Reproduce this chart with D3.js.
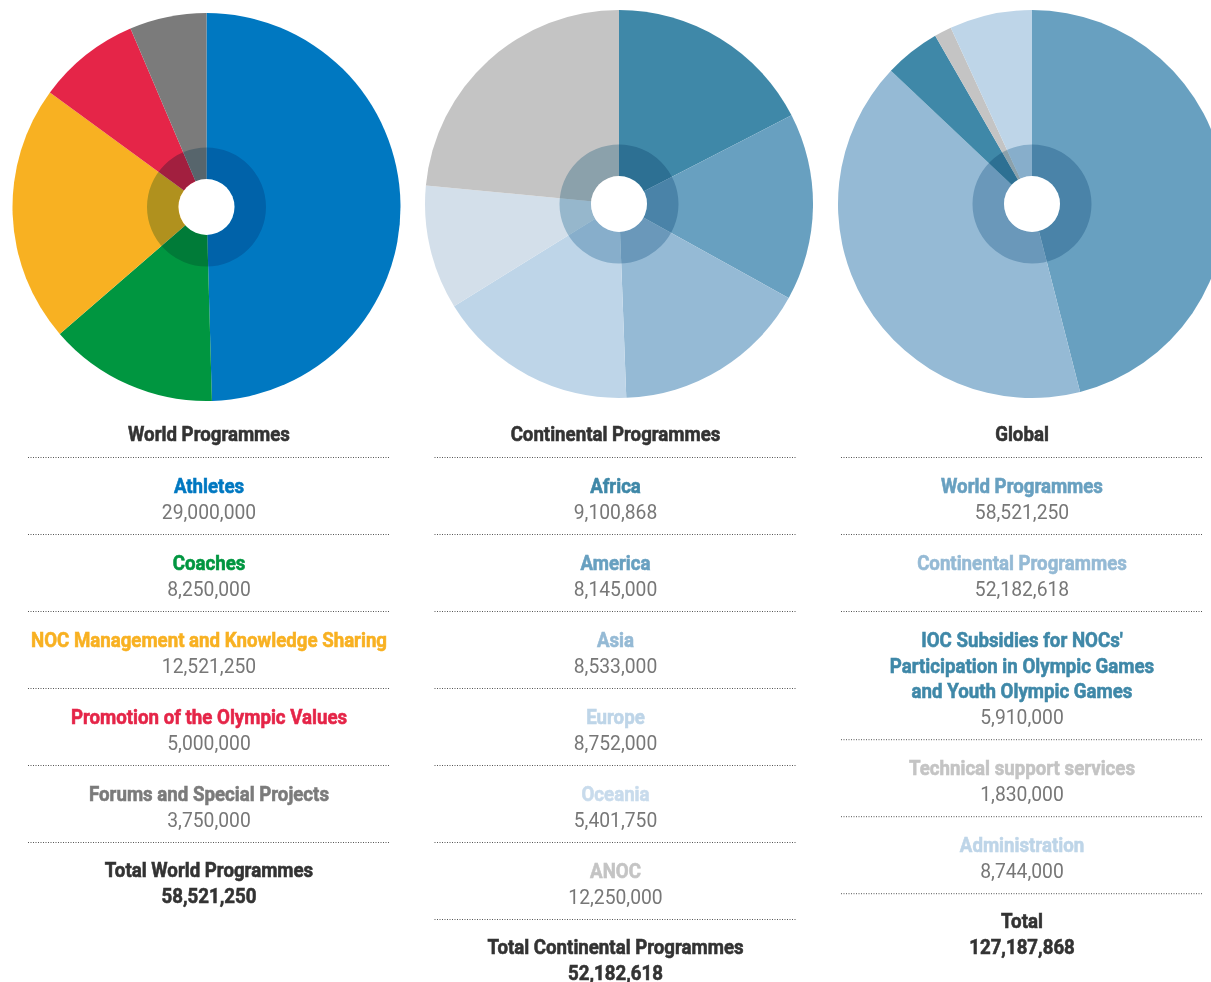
<!DOCTYPE html>
<html>
<head>
<meta charset="utf-8">
<script src="https://cdn.jsdelivr.net/npm/d3@7"></script>
<style>
    body { margin: 0; background: #fff; }
    svg { display: block; }
</style>
</head>
<body>
<div id="chart"></div>
<script>

// World Programmes
const worldLabels = [["Athletes"], ["Coaches"], ["NOC Management and Knowledge Sharing"],
    ["Promotion of the Olympic Values"], ["Forums and Special Projects"]];
const worldValues = [29000000, 8250000, 12521250, 5000000, 3750000];
const worldColors = ["#0078c1", "#009640", "#f8b122", "#e52548", "#7b7b7b"];

// Continental Programmes
const continentalLabels = [["Africa"], ["America"], ["Asia"], ["Europe"], ["Oceania"], ["ANOC"]];
const continentalValues = [9100868, 8145000, 8533000, 8752000, 5401750, 12250000];
const continentalColors = ["#3f88a8", "#68a0c0", "#95bad5", "#bed5e8", "#d3dfea", "#c4c4c4"];
const continentalTextColors = ["#3f88a8", "#68a0c0", "#95bad5", "#bed5e8", "#c8dbec", "#c4c4c4"];

// Global
const globalLabels = [["World Programmes"], ["Continental Programmes"],
    ["IOC Subsidies for NOCs'", "Participation in Olympic Games", "and Youth Olympic Games"],
    ["Technical support services"], ["Administration"]];
const globalValues = [58521250, 52182618, 5910000, 1830000, 8744000];
const globalColors = ["#68a0c0", "#95bad5", "#3f88a8", "#c4c4c4", "#bed5e8"];


class BudgetPanel {

    constructor(svg, opts) {
        this.svg = svg;
        this.opts = opts;
        this.initVis();
    }

    initVis() {
        let vis = this;
        let o = vis.opts;

        vis.number_format = d3.format(",");
        vis.outer = 194;
        vis.ring = 59.5;
        vis.hole = 28;

        vis.pie = d3.pie().sort(null).value(d => d);
        vis.arc = d3.arc().innerRadius(0).outerRadius(vis.outer);

        //pie
        vis.g = vis.svg.append("g")
            .attr("transform", `translate(${o.cx},${o.cy})`);

        vis.g.selectAll("path.slice")
            .data(vis.pie(o.values))
            .join("path")
            .attr("class", "slice")
            .attr("d", vis.arc)
            .attr("fill", (d, i) => o.colors[i]);

        //darker inner ring
        vis.g.append("path")
            .attr("d", d3.arc()({innerRadius: vis.hole, outerRadius: vis.ring, startAngle: 0, endAngle: 2 * Math.PI}))
            .attr("fill", "#b5d1df")
            .style("mix-blend-mode", "multiply");

        vis.g.append("circle")
            .attr("r", vis.hole)
            .attr("fill", "#fff");

        //table below the pie
        vis.t = vis.svg.append("g");
        let x0 = o.tx - 181, x1 = o.tx + 181;

        vis.text(o.title, o.tx, 441, "#333", 700);

        let line = 457;
        o.labels.forEach((lab, i) => {
            vis.rule(x0, x1, line);
            let y = line + 36;
            lab.forEach((l, j) => vis.text(l, o.tx, y + j * 25.6, o.textColors[i], 700));
            let vy = y + (lab.length - 1) * 25.6 + 26;
            vis.text(vis.number_format(o.values[i]), o.tx, vy, "#777", 400);
            line = vy + 15;
        });
        vis.rule(x0, x1, line);

        vis.text(o.totalLabel, o.tx, line + 35, "#333", 700);
        vis.text(vis.number_format(d3.sum(o.values)), o.tx, line + 60.5, "#333", 700);
    }

    // condensed look: Roboto squeezed horizontally
    text(s, x, y, color, weight) {
        let bold = weight === 700;
        this.t.append("text")
            .attr("transform", `translate(${x},${y}) scale(${bold ? 0.89 : 0.92},1)`)
            .attr("text-anchor", "middle")
            .attr("fill", color)
            .attr("stroke", bold ? color : "none")
            .attr("stroke-width", 0.6)
            .attr("font-weight", weight)
            .attr("font-size", 21)
            .text(s);
    }

    rule(x0, x1, y) {
        this.t.append("line")
            .attr("x1", x0).attr("x2", x1)
            .attr("y1", y + 0.5).attr("y2", y + 0.5)
            .attr("stroke", "#555")
            .attr("stroke-width", 1)
            .attr("stroke-dasharray", "1,1.5");
    }
}


let svg = d3.select("#chart")
    .append("svg")
    .attr("width", 1211)
    .attr("height", 982)
    .style("font-family", "Roboto, 'DejaVu Sans Condensed', sans-serif");

new BudgetPanel(svg, {
    cx: 206.5, cy: 207, tx: 209,
    title: "World Programmes", totalLabel: "Total World Programmes",
    labels: worldLabels, values: worldValues, colors: worldColors, textColors: worldColors
});

new BudgetPanel(svg, {
    cx: 619, cy: 204, tx: 615.5,
    title: "Continental Programmes", totalLabel: "Total Continental Programmes",
    labels: continentalLabels, values: continentalValues, colors: continentalColors, textColors: continentalTextColors
});

new BudgetPanel(svg, {
    cx: 1032, cy: 204, tx: 1022,
    title: "Global", totalLabel: "Total",
    labels: globalLabels, values: globalValues, colors: globalColors, textColors: globalColors
});

</script>
</body>
</html>
